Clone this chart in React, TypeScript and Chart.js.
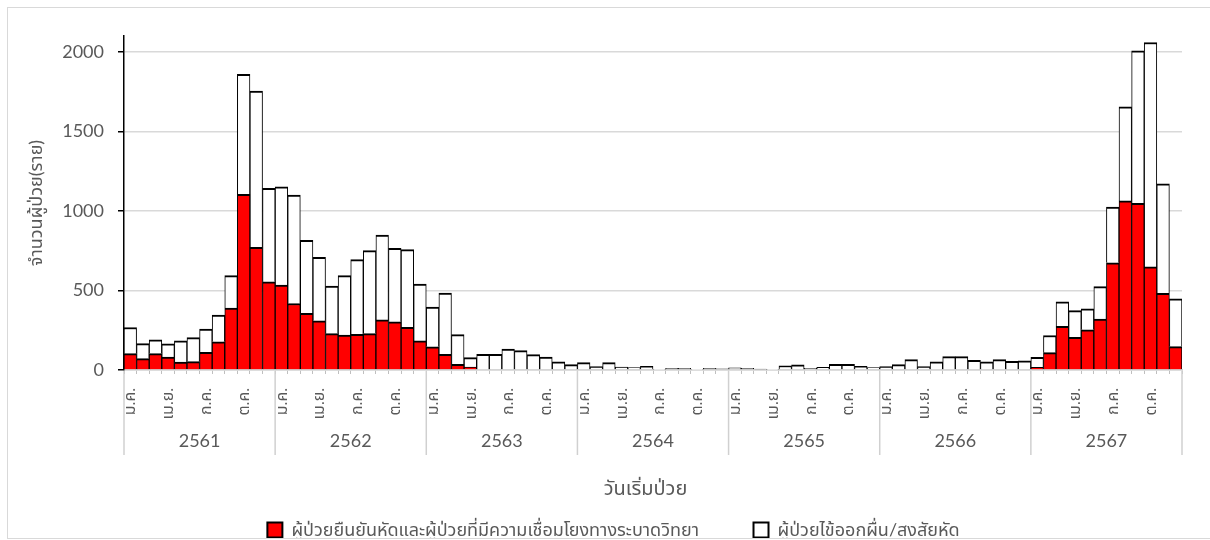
import React, { useEffect, useRef } from 'react';
import { Chart, registerables } from 'chart.js';

Chart.register(...registerables);

const years = ['2561', '2562', '2563', '2564', '2565', '2566', '2567'];
const monthTickLabels = ['ม.ค.', '', '', 'เม.ย.', '', '', 'ก.ค.', '', '', 'ต.ค.', '', ''];
const yTickValues = [0, 500, 1000, 1500, 2000];

const confirmed2561 = [103, 72, 103, 82, 50, 53, 111, 177, 389, 1104, 772, 555];
const confirmed2562 = [534, 418, 357, 309, 229, 219, 225, 229, 315, 303, 269, 183];
const confirmed2563 = [146, 99, 36, 19, 4, 0, 0, 0, 0, 0, 0, 0];
const confirmed2564 = [0, 0, 0, 0, 0, 0, 0, 0, 0, 0, 0, 0];
const confirmed2565 = [0, 0, 0, 0, 0, 0, 0, 0, 0, 0, 0, 0];
const confirmed2566 = [0, 0, 0, 0, 0, 0, 0, 0, 0, 0, 0, 0];
const confirmed2567 = [17, 109, 274, 206, 253, 320, 674, 1063, 1048, 648, 482, 147];

const suspected2561 = [164, 94, 86, 82, 133, 151, 146, 168, 204, 755, 982, 587];
const suspected2562 = [618, 682, 459, 400, 299, 374, 469, 522, 533, 462, 488, 357];
const suspected2563 = [249, 384, 186, 59, 95, 99, 131, 122, 97, 82, 51, 34];
const suspected2564 = [46, 21, 46, 19, 15, 23, 2, 10, 10, 2, 10, 8];
const suspected2565 = [13, 10, 6, 2, 27, 32, 11, 17, 36, 36, 23, 15];
const suspected2566 = [21, 34, 65, 21, 51, 84, 84, 61, 51, 65, 55, 57];
const suspected2567 = [63, 108, 155, 167, 132, 204, 351, 592, 958, 1411, 688, 301];

const confirmedLabel = 'ผู้ป่วยยืนยันหัดและผู้ป่วยที่มีความเชื่อมโยงทางระบาดวิทยา';
const suspectedLabel = 'ผู้ป่วยไข้ออกผื่น/สงสัยหัด';
const xTitle = 'วันเริ่มป่วย';
const yTitle = 'จำนวนผู้ป่วย(ราย)';

const FONT = "Lato, 'Noto Sans Thai', 'Noto Sans', sans-serif";
const GRAY = '#595959';

export default function App() {
  const ref = useRef<HTMLCanvasElement | null>(null);

  useEffect(() => {
    document.documentElement.style.overflow = 'hidden';
    const canvas = ref.current;
    if (!canvas) return;

    const confirmed = [
      ...confirmed2561, ...confirmed2562, ...confirmed2563, ...confirmed2564,
      ...confirmed2565, ...confirmed2566, ...confirmed2567,
    ];
    const suspected = [
      ...suspected2561, ...suspected2562, ...suspected2563, ...suspected2564,
      ...suspected2565, ...suspected2566, ...suspected2567,
    ];
    const labels: string[] = [];
    years.forEach((y) => {
      for (let m = 1; m <= 12; m++) labels.push(y + '-' + m);
    });

    const separators = {
      id: 'yearSeparators',
      afterDraw(chart: any) {
        const xs = chart.scales.x;
        const ctx = chart.ctx;
        const step = xs.getPixelForValue(1) - xs.getPixelForValue(0);
        ctx.save();
        ctx.strokeStyle = '#d0d0d0';
        ctx.lineWidth = 1.5;
        for (let i = 0; i <= years.length; i++) {
          const px = xs.getPixelForValue(i * 12) - step / 2;
          ctx.beginPath();
          ctx.moveTo(px, chart.chartArea.bottom + 1);
          ctx.lineTo(px, chart.chartArea.bottom + 85);
          ctx.stroke();
        }
        ctx.restore();
      },
    };

    const border = { top: 2, left: 1, right: 1, bottom: 0 };

    const chart = new Chart(canvas, {
      type: 'bar',
      data: {
        labels,
        datasets: [
          {
            label: confirmedLabel,
            data: confirmed,
            backgroundColor: '#ff0000',
            borderColor: '#000000',
            borderWidth: border,
            barPercentage: 1,
            categoryPercentage: 1,
          },
          {
            label: suspectedLabel,
            data: suspected,
            backgroundColor: '#ffffff',
            borderColor: '#000000',
            borderWidth: border,
            barPercentage: 1,
            categoryPercentage: 1,
          },
        ],
      },
      options: {
        animation: false,
        responsive: false,
        maintainAspectRatio: false,
        layout: { padding: { top: 28, right: 28, left: 37, bottom: 0 } },
        plugins: {
          tooltip: { enabled: false },
          legend: {
            position: 'bottom',
            labels: {
              boxWidth: 15,
              boxHeight: 15,
              padding: 14,
              color: GRAY,
              font: { size: 18, family: FONT },
              generateLabels: (c: any) =>
                (Chart.defaults.plugins.legend.labels as any).generateLabels(c).map((l: any) => ({
                  ...l,
                  lineWidth: 2,
                  text: l.datasetIndex === 0 ? l.text + '\u2003\u2003\u2003' : l.text,
                })),
            },
          },
        },
        scales: {
          x: {
            stacked: true,
            offset: true,
            grid: {
              display: true,
              drawOnChartArea: false,
              offset: true,
              tickLength: 4,
              color: '#bfbfbf',
            },
            border: { color: '#d0d0d0', width: 1.5 },
            ticks: {
              autoSkip: false,
              maxRotation: 90,
              minRotation: 90,
              padding: 14,
              color: GRAY,
              font: { size: 16, family: FONT },
              callback: (_v: any, i: number) => monthTickLabels[i % 12],
            },
            afterFit: (s: any) => {
              s.height = 56;
            },
          },
          x2: {
            type: 'category',
            labels: years,
            position: 'bottom',
            offset: true,
            weight: 1,
            grid: { display: false, drawTicks: false },
            border: { display: false },
            ticks: {
              padding: 4,
              color: GRAY,
              font: { size: 18, family: FONT },
            },
            title: {
              display: true,
              text: xTitle + '\u2003',
              color: GRAY,
              font: { size: 20, family: FONT },
              padding: { top: 0, bottom: 6 },
            },
            afterFit: (s: any) => {
              s.height = 81;
            },
          },
          y: {
            stacked: true,
            min: 0,
            max: 2100,
            afterBuildTicks: (s: any) => {
              s.ticks = yTickValues.map((v) => ({ value: v }));
            },
            ticks: {
              padding: 14,
              color: GRAY,
              font: { size: 18, family: FONT },
              callback: (v: any) => String(v),
            },
            grid: {
              color: '#d9d9d9',
              lineWidth: 1.5,
              tickColor: '#000000',
              tickLength: 6,
            },
            border: { color: '#000000', width: 1.5 },
            title: {
              display: true,
              text: yTitle,
              color: GRAY,
              font: { size: 18, family: FONT },
              padding: { top: -20, bottom: 0 },
            },
            afterFit: (s: any) => {
              s.width = 79;
            },
          },
        },
      } as any,
      plugins: [separators],
    });

    return () => {
      chart.destroy();
    };
  }, []);

  return (
    <div
      style={{
        position: 'fixed',
        left: 7,
        top: 7,
        width: 1210,
        height: 530,
        border: '1px solid #d9d9d9',
        overflow: 'hidden',
        background: '#ffffff',
      }}
    >
      <canvas ref={ref} width={1202} height={541} style={{ display: 'block' }} />
    </div>
  );
}
